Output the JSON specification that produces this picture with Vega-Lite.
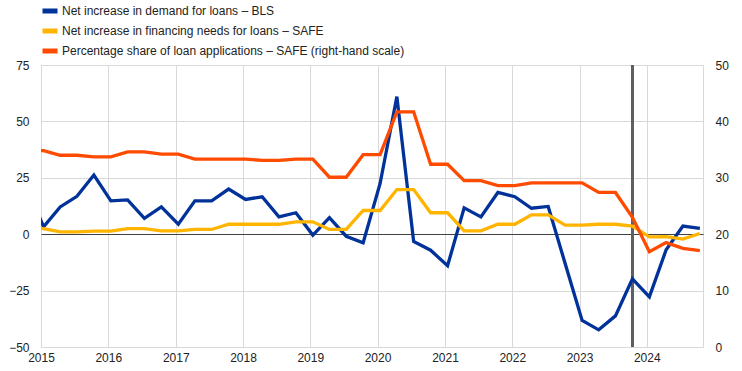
{
  "$schema": "https://vega.github.io/schema/vega-lite/v6.json",
  "width": 662,
  "height": 282,
  "autosize": {"type": "none"},
  "padding": {"left": 41, "top": 65, "right": 39, "bottom": 24},
  "background": "white",
  "config": {
    "view": {"stroke": "#d9d9d9", "strokeWidth": 1},
    "font": "Liberation Sans",
    "axis": {"labelFont": "Liberation Sans", "labelFontSize": 12, "labelColor": "#222222", "ticks": false, "domain": false, "title": null}
  },
  "data": {
    "values": [
      {"q": "2014-10-15", "bls": 21.0, "needs": 2.5, "share": 35.0},
      {"q": "2015-01-15", "bls": 3.3, "needs": 2.5, "share": 34.8},
      {"q": "2015-04-15", "bls": 12.1, "needs": 1.0, "share": 34.0},
      {"q": "2015-07-15", "bls": 16.8, "needs": 1.0, "share": 34.0},
      {"q": "2015-10-15", "bls": 26.2, "needs": 1.4, "share": 33.7},
      {"q": "2016-01-15", "bls": 14.8, "needs": 1.4, "share": 33.7},
      {"q": "2016-04-15", "bls": 15.2, "needs": 2.5, "share": 34.6},
      {"q": "2016-07-15", "bls": 7.0, "needs": 2.5, "share": 34.6},
      {"q": "2016-10-15", "bls": 12.1, "needs": 1.5, "share": 34.2},
      {"q": "2017-01-15", "bls": 4.4, "needs": 1.5, "share": 34.2},
      {"q": "2017-04-15", "bls": 14.8, "needs": 2.1, "share": 33.3},
      {"q": "2017-07-15", "bls": 14.8, "needs": 2.1, "share": 33.3},
      {"q": "2017-10-15", "bls": 20.0, "needs": 4.4, "share": 33.3},
      {"q": "2018-01-15", "bls": 15.4, "needs": 4.4, "share": 33.3},
      {"q": "2018-04-15", "bls": 16.6, "needs": 4.4, "share": 33.1},
      {"q": "2018-07-15", "bls": 7.7, "needs": 4.4, "share": 33.1},
      {"q": "2018-10-15", "bls": 9.5, "needs": 5.5, "share": 33.3},
      {"q": "2019-01-15", "bls": -0.4, "needs": 5.5, "share": 33.3},
      {"q": "2019-04-15", "bls": 7.3, "needs": 2.1, "share": 30.1},
      {"q": "2019-07-15", "bls": -0.9, "needs": 2.1, "share": 30.1},
      {"q": "2019-10-15", "bls": -3.8, "needs": 10.5, "share": 34.1},
      {"q": "2020-01-15", "bls": 22.5, "needs": 10.5, "share": 34.1},
      {"q": "2020-04-15", "bls": 61.0, "needs": 19.8, "share": 41.7},
      {"q": "2020-07-15", "bls": -3.2, "needs": 19.8, "share": 41.7},
      {"q": "2020-10-15", "bls": -7.1, "needs": 9.5, "share": 32.4},
      {"q": "2021-01-15", "bls": -14.0, "needs": 9.5, "share": 32.4},
      {"q": "2021-04-15", "bls": 11.7, "needs": 1.5, "share": 29.5},
      {"q": "2021-07-15", "bls": 7.7, "needs": 1.5, "share": 29.5},
      {"q": "2021-10-15", "bls": 18.5, "needs": 4.4, "share": 28.6},
      {"q": "2022-01-15", "bls": 16.6, "needs": 4.4, "share": 28.6},
      {"q": "2022-04-15", "bls": 11.5, "needs": 8.6, "share": 29.1},
      {"q": "2022-07-15", "bls": 12.3, "needs": 8.6, "share": 29.1},
      {"q": "2022-10-15", "bls": -13.0, "needs": 4.0, "share": 29.1},
      {"q": "2023-01-15", "bls": -38.2, "needs": 4.0, "share": 29.1},
      {"q": "2023-04-15", "bls": -42.4, "needs": 4.4, "share": 27.4},
      {"q": "2023-07-15", "bls": -36.2, "needs": 4.4, "share": 27.4},
      {"q": "2023-10-15", "bls": -19.8, "needs": 3.6, "share": 23.0},
      {"q": "2024-01-15", "bls": -27.8, "needs": -1.2, "share": 16.9},
      {"q": "2024-04-15", "bls": -6.9, "needs": -1.1, "share": 18.5},
      {"q": "2024-07-15", "bls": 3.6, "needs": -2.2, "share": 17.5},
      {"q": "2024-10-15", "bls": 2.6, "needs": 0.3, "share": 17.1}
    ]
  },
  "encoding": {
    "x": {
      "field": "q", "type": "temporal",
      "scale": {"domain": [{"year": 2015, "month": 1, "date": 1}, {"year": 2024, "month": 11, "date": 1}]},
      "axis": {
        "values": [
          {"year": 2015, "month": 1, "date": 1}, {"year": 2016, "month": 1, "date": 1},
          {"year": 2017, "month": 1, "date": 1}, {"year": 2018, "month": 1, "date": 1},
          {"year": 2019, "month": 1, "date": 1}, {"year": 2020, "month": 1, "date": 1},
          {"year": 2021, "month": 1, "date": 1}, {"year": 2022, "month": 1, "date": 1},
          {"year": 2023, "month": 1, "date": 1}, {"year": 2024, "month": 1, "date": 1}
        ],
        "format": "%Y", "grid": true, "gridColor": "#d9d9d9", "labelPadding": 5, "labelFlush": false
      }
    }
  },
  "layer": [
    {
      "encoding": {
        "y": {
          "type": "quantitative",
          "scale": {"domain": [-50, 75], "nice": false, "zero": false},
          "axis": {
            "orient": "left", "values": [-50, -25, 0, 25, 50, 75], "grid": true,
            "gridColor": {"condition": {"test": "datum.value === 0", "value": "#404040"}, "value": "#d9d9d9"},
            "labelPadding": 12
          }
        }
      },
      "layer": [
        {
          "mark": {"type": "rule", "color": "#5f5f5f", "strokeWidth": 1.8},
          "encoding": {"x": {"datum": {"year": 2023, "month": 10, "date": 15}, "type": "temporal"}, "y": null}
        },
        {
          "mark": {"type": "line", "clip": true, "strokeWidth": 3.3},
          "encoding": {
            "y": {"field": "bls", "type": "quantitative"},
            "color": {
              "datum": "Net increase in demand for loans – BLS", "type": "nominal",
              "scale": {
                "domain": ["Net increase in demand for loans – BLS", "Net increase in financing needs for loans – SAFE", "Percentage share of loan applications – SAFE (right-hand scale)"],
                "range": ["#003299", "#ffb400", "#ff4b00"]
              },
              "legend": {
                "orient": "none", "legendX": -1, "legendY": -64, "title": null,
                "symbolType": "stroke", "symbolSize": 225, "symbolStrokeWidth": 5,
                "labelFont": "Liberation Sans", "labelFontSize": 12, "labelColor": "#222222",
                "labelOffset": 2, "rowPadding": -4.5, "labelLimit": 500
              }
            }
          }
        },
        {
          "mark": {"type": "line", "clip": true, "strokeWidth": 3.3},
          "encoding": {
            "y": {"field": "needs", "type": "quantitative"},
            "color": {"datum": "Net increase in financing needs for loans – SAFE", "type": "nominal"}
          }
        }
      ]
    },
    {
      "mark": {"type": "line", "clip": true, "strokeWidth": 3.3},
      "encoding": {
        "y": {
          "field": "share", "type": "quantitative",
          "scale": {"domain": [0, 50], "nice": false},
          "axis": {"orient": "right", "values": [0, 10, 20, 30, 40, 50], "grid": false, "labelPadding": 12}
        },
        "color": {"datum": "Percentage share of loan applications – SAFE (right-hand scale)", "type": "nominal"}
      }
    }
  ],
  "resolve": {"scale": {"y": "independent"}}
}
